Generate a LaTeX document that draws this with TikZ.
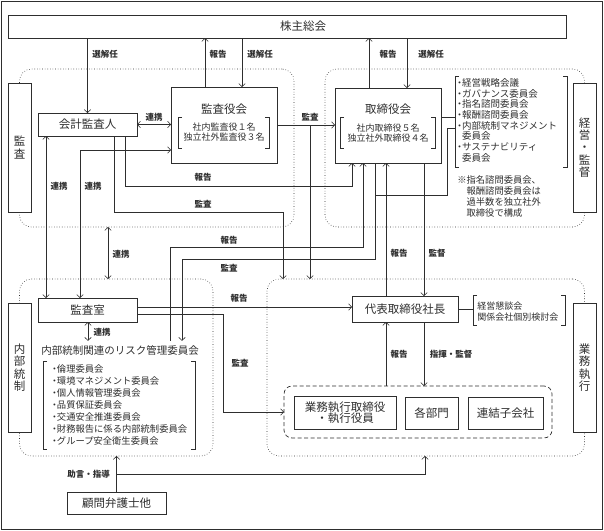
\documentclass[tikz,border=0pt]{standalone}
\usepackage{fontspec}
\newfontfamily\cjk{Noto Sans CJK JP}
\usetikzlibrary{arrows.meta}
\definecolor{ink}{HTML}{2E2E2E}
\def\sqbrackets(#1,#2)(#3,#4){\draw (#1+4,#2) -- (#1,#2) -- (#1,#4) -- (#1+4,#4); \draw (#3-4,#2) -- (#3,#2) -- (#3,#4) -- (#3-4,#4);}
\newcommand\bul{\makebox[0.5em]{・}}
\tikzset{
	box/.style={draw, line width=0.7pt, inner sep=0pt, outer sep=0pt, font=\cjk\fontsize{11.5}{12}\selectfont},
	title/.style={inner sep=0pt, font=\cjk\fontsize{11.5}{12}\selectfont},
	zone/.style={draw, dotted, rounded corners=12pt, inner sep=0pt, outer sep=0pt},
	group/.style={draw, dash pattern=on 4pt off 2.5pt, line width=0.7pt, rounded corners=8pt, inner sep=0pt, outer sep=0pt},
	side/.style={box, fill=white, minimum width=23pt, minimum height=129pt, align=center, font=\cjk\fontsize{11.5}{12.3}\selectfont},
	lbl/.style={inner sep=1pt, font=\cjk\bfseries\fontsize{8.5}{10}\selectfont},
	members/.style={inner sep=0pt, align=center, font=\cjk\fontsize{9}{10.5}\selectfont},
	listing/.style={inner sep=0pt, align=left, anchor=north west, font=\cjk\fontsize{9.5}{10.7}\selectfont},
}
\begin{document}
\begin{tikzpicture}[x=1pt, y=-1pt, color=ink, line width=0.6pt, >={Straight Barb[length=3pt,width=6.5pt]}]
			%%%%% START %%%%%
			\useasboundingbox (0,0) rectangle (604,530);
			\draw[line width=0.8pt] (1,1) rectangle (602,529);
			
			% areas
			\node[zone, minimum width=274.5pt, minimum height=158pt] (zoneKansa) at (156.75,148) {};
			\node[zone, minimum width=259.5pt, minimum height=158pt] (zoneKeiei) at (454.75,148) {};
			\node[zone, minimum width=193.5pt, minimum height=177pt] (zoneNaibu) at (116.25,367.5) {};
			\node[zone, minimum width=317.5pt, minimum height=177pt] (zoneGyomu) at (425.75,367.5) {};
			
			\node[side] (sideKansa) at (19.5,147.5) {監\\査};
			\node[side] (sideKeiei) at (584.5,147.5) {経\\営\\・\\監\\督};
			\node[side] (sideNaibu) at (19.5,367.5) {内\\部\\統\\制};
			\node[side] (sideGyomu) at (584.5,367.5) {業\\務\\執\\行};
			
			% bodies
			\node[box, minimum width=558pt, minimum height=23pt] (soukai) at (287,26.5) {\hspace*{32pt}株主総会};
			\node[box, minimum width=99pt, minimum height=23pt] (kaikei) at (87.5,124.5) {会計監査人};
			
			\node[box, minimum width=106pt, minimum height=76pt] (kansayaku) at (224,125) {};
			\node[title] (kansayakuT) at (224,109) {監査役会};
			\node[members] (kansayakuM) at (224,132) {社内監査役１名\\独立社外監査役３名};
			\sqbrackets(178,117)(269,148)
			
			\node[box, minimum width=106pt, minimum height=75pt] (torishimari) at (388,125.5) {};
			\node[title] (torishimariT) at (388,109) {取締役会};
			\node[members] (torishimariM) at (388,133) {社内取締役５名\\独立社外取締役４名};
			\sqbrackets(340,117)(435,148)
			
			\node[listing] (iinkai) at (457,78) {\bul 経営戦略会議\\\bul ガバナンス委員会\\\bul 指名諮問委員会\\\bul 報酬諮問委員会\\\bul 内部統制マネジメント\\\hspace*{0.5em}委員会\\\bul サステナビリティ\\\hspace*{0.5em}委員会};
			\sqbrackets(455,76)(567,167)
			\coordinate (iinkaiL) at (455,117);
			\coordinate (naibuMgmt) at (455,128);
			\node[listing, font=\cjk\fontsize{9.3}{11}\selectfont] (chuki) at (457,175.5) {※指名諮問委員会、\\\hspace*{1em}報酬諮問委員会は\\\hspace*{1em}過半数を独立社外\\\hspace*{1em}取締役で構成};
			
			\node[box, minimum width=99pt, minimum height=24pt] (kansashitsu) at (87.5,310) {監査室};
			\node[title, inner sep=4pt, font=\cjk\fontsize{10.5}{12}\selectfont] (riskT) at (120,350) {内部統制関連のリスク管理委員会};
			\node[listing, font=\cjk\fontsize{9.3}{12}\selectfont] (riskList) at (52,364.5) {\bul 倫理委員会\\\bul 環境マネジメント委員会\\\bul 個人情報管理委員会\\\bul 品質保証委員会\\\bul 交通安全推進委員会\\\bul 財務報告に係る内部統制委員会\\\bul グループ安全衛生委員会};
			\sqbrackets(43,361)(195,449)
			
			\node[box, minimum width=106pt, minimum height=26pt] (daihyo) at (405,309) {代表取締役社長};
			\node[listing, font=\cjk\fontsize{9}{11}\selectfont] (kondan) at (477,301.5) {経営懇談会\\関係会社個別検討会};
			\sqbrackets(473,295)(565,325)
			
			\node[group, minimum width=268pt, minimum height=52pt] (groupGyomu) at (418,412) {};
			\node[box, minimum width=102pt, minimum height=33pt, align=center, font=\cjk\fontsize{11.5}{11.5}\selectfont] (gyomu) at (345,412.5) {業務執行取締役\\・執行役員};
			\node[box, minimum width=53pt, minimum height=32pt] (kakubu) at (431.5,413) {各部門};
			\node[box, minimum width=75pt, minimum height=32pt] (renketsu) at (505.5,413) {連結子会社};
			
			\node[box, minimum width=99pt, minimum height=22pt] (komon) at (116.5,503) {顧問弁護士他};
			
			% lines
			\draw[->] (kaikei.north |- soukai.south) -- (kaikei.north);
			\draw[->] (205,0 |- kansayaku.north) -- (205,0 |- soukai.south);
			\draw[->] (242,0 |- soukai.south) -- (242,0 |- kansayaku.north);
			\draw[->] (369,0 |- torishimari.north) -- (369,0 |- soukai.south);
			\draw[->] (407,0 |- soukai.south) -- (407,0 |- torishimari.north);
			
			\draw[<->] (kaikei.east) -- (kaikei.east -| kansayaku.west);
			\draw[->] (kansayaku.east) -- (kansayaku.east -| torishimari.west);
			\draw[->] (310,0 |- kansayaku.east) -- (310,0 |- zoneGyomu.north);
			\draw[<->] (80,0 |- kansashitsu.north) |- (kansayaku.west |- 0,150);
			\draw[<->] (46,0 |- kaikei.south) -- (46,0 |- kansashitsu.north);
			\draw[->] (125,0 |- kaikei.south) |- (352,186) -- (352,0 |- torishimari.south);
			\draw[->] (114,0 |- kaikei.south) |- (283,212) -- (283,0 |- zoneGyomu.north);
			\draw[<->] (108,0 |- zoneKansa.south) -- (108,0 |- zoneNaibu.north);
			
			\draw (torishimari.east |- iinkaiL) -- (iinkaiL);
			\draw (naibuMgmt) -- (447,128) |- (375,195);
			\draw[->] (375,0 |- torishimari.south) |- (182,259) -- (182,0 |- riskT.north);
			\draw[->] (170,0 |- riskT.north) |- (363,247) -- (363,0 |- torishimari.south);
			\draw[->] (424,0 |- torishimari.south) -- (424,0 |- daihyo.north);
			\draw[->] (386,0 |- daihyo.north) -- (386,0 |- torishimari.south);
			\draw (daihyo.east) -- (473,0 |- daihyo.east);
			
			\draw[->] (kansashitsu.east |- 0,307) -- (daihyo.west |- 0,307);
			\draw[->] (kansashitsu.east |- 0,314) -| (223,412) -- (groupGyomu.west |- 0,412);
			\draw[<->] (88,0 |- kansashitsu.south) -- (88,0 |- riskT.north);
			\draw[->] (386,0 |- groupGyomu.north) -- (386,0 |- daihyo.south);
			\draw[->] (424,0 |- daihyo.south) -- (424,0 |- groupGyomu.north);
			
			\draw[->] (komon.north) -- (komon.north |- zoneNaibu.south);
			\draw[->] (komon.north |- 0,474) -| (425,0 |- zoneGyomu.south);
			
			% labels
			\node[lbl] (senkaninA) at (105,54) {選解任};
			\node[lbl] (hokokuA) at (218,54) {報告};
			\node[lbl] (senkaninB) at (260,54) {選解任};
			\node[lbl] (hokokuB) at (388,54) {報告};
			\node[lbl] (senkaninC) at (431,54) {選解任};
			\node[lbl] (renkeiA) at (154,117) {連携};
			\node[lbl] (kansaA) at (310,117) {監査};
			\node[lbl] (hokokuC) at (203,177) {報告};
			\node[lbl] (kansaB) at (203,204) {監査};
			\node[lbl] (renkeiB) at (59,186) {連携};
			\node[lbl] (renkeiC) at (93,186) {連携};
			\node[lbl] (renkeiD) at (121,254) {連携};
			\node[lbl] (hokokuD) at (229,240) {報告};
			\node[lbl] (kansaC) at (229,268) {監査};
			\node[lbl] (hokokuE) at (239,298) {報告};
			\node[lbl] (renkeiE) at (102,332) {連携};
			\node[lbl] (kansaD) at (240,363) {監査};
			\node[lbl] (hokokuF) at (399,253) {報告};
			\node[lbl] (kantokuA) at (437,253) {監督};
			\node[lbl] (hokokuG) at (399,354) {報告};
			\node[lbl] (shiki) at (451,354) {指揮・監督};
			\node[lbl] (jogen) at (88.5,474) {助言・指導};
			
			%%%%% END %%%%%
\end{tikzpicture}
\end{document}
